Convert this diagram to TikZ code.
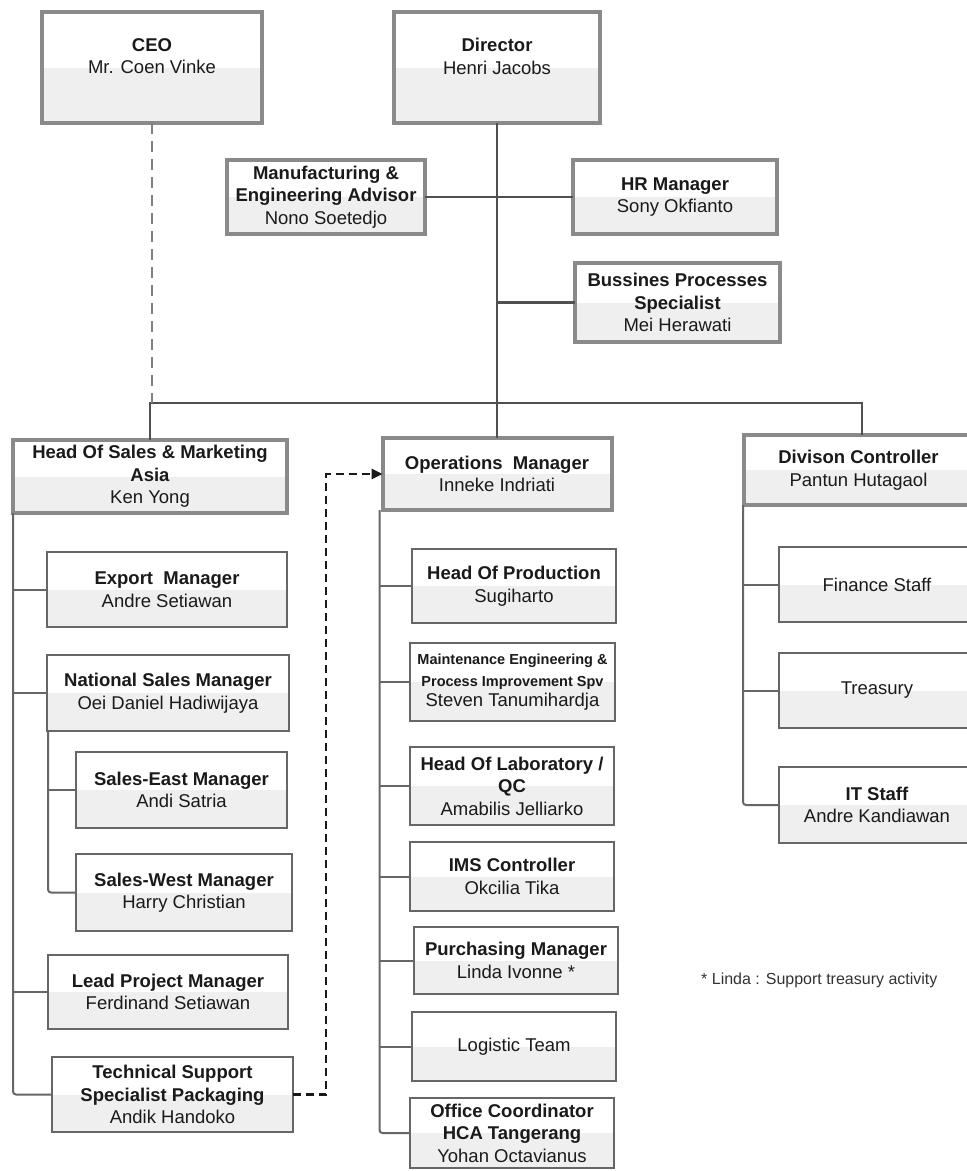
\documentclass[tikz,border=0pt]{standalone}
\usepackage{fontspec}
\setmainfont{Liberation Sans}
\usetikzlibrary{calc,arrows.meta}
\definecolor{bordergray}{HTML}{8A8A8A}
\definecolor{thingray}{HTML}{666666}
\definecolor{lowfill}{HTML}{EFEFEF}
\definecolor{linegray}{HTML}{505050}
\definecolor{txt}{HTML}{1A1A1A}
\tikzset{
  boxbase/.style={rectangle, align=center, inner sep=0pt, outer sep=0pt, fill=white,
    font=\fontsize{18.5}{22.5}\selectfont, text=txt,
    path picture={\fill[lowfill] (path picture bounding box.west) rectangle (path picture bounding box.south east);}},
  bigbox/.style={boxbase, draw=bordergray, line width=4pt},
  smallbox/.style={boxbase, draw=thingray, line width=1.6pt},
  conn/.style={draw=linegray, line width=2.5pt},
  subconn/.style={draw=thingray, line width=2pt},
  ceoline/.style={draw=gray, line width=1.8pt, dash pattern=on 11pt off 7pt},
  dasharrow/.style={draw=black!90, line width=2.5pt, dash pattern=on 8pt off 5pt,
    -{Triangle[length=11pt,width=10pt]}},
  notetext/.style={font=\fontsize{16}{19}\selectfont, text=black!80, anchor=west, inner sep=0pt}
}
\begin{document}
\begin{tikzpicture}[x=1pt,y=-1pt]
\useasboundingbox (0,0) rectangle (967,1171);
\fill[white] (0,0) rectangle (967,1171);
\clip (0,0) rectangle (967,1171);

% top level
\node[bigbox, minimum width=220pt, minimum height=111pt] (CEO) at (152,67.5)
  {\textbf{CEO}\\Mr. Coen Vinke\\\mbox{}};
\node[bigbox, minimum width=206pt, minimum height=111pt] (Dir) at (497,67.5)
  {\textbf{Director}\\Henri Jacobs\\\mbox{}};
\node[bigbox, minimum width=198pt, minimum height=74pt] (Manuf) at (326,197)
  {\textbf{Manufacturing \&}\\\textbf{Engineering Advisor}\\Nono Soetedjo};
\node[bigbox, minimum width=204pt, minimum height=74pt] (HR) at (675,197)
  {\textbf{HR Manager}\\Sony Okfianto};
\node[bigbox, minimum width=205pt, minimum height=79pt] (BPS) at (677.5,302.5)
  {\textbf{Bussines Processes}\\\textbf{Specialist}\\Mei Herawati};

% second level
\node[bigbox, minimum width=274pt, minimum height=73pt] (HoS) at (150,476.5)
  {\textbf{Head Of Sales \& Marketing}\\\textbf{Asia}\\Ken Yong};
\node[bigbox, minimum width=229pt, minimum height=72pt] (Ops) at (497,474)
  {\textbf{Operations~ Manager}\\Inneke Indriati};
\node[bigbox, minimum width=229pt, minimum height=70pt] (Div) at (858.5,470)
  {\textbf{Divison Controller}\\Pantun Hutagaol};

% sales column
\node[smallbox, minimum width=240pt, minimum height=75pt] (Export) at (167,589.5)
  {\textbf{Export~ Manager}\\Andre Setiawan};
\node[smallbox, minimum width=242pt, minimum height=76pt] (National) at (168,693)
  {\textbf{National Sales Manager}\\Oei Daniel Hadiwijaya};
\node[smallbox, minimum width=211pt, minimum height=76pt] (SEast) at (181.5,790)
  {\textbf{Sales-East Manager}\\Andi Satria};
\node[smallbox, minimum width=216pt, minimum height=77pt] (SWest) at (184,892.5)
  {\textbf{Sales-West Manager}\\Harry Christian};
\node[smallbox, minimum width=240pt, minimum height=74pt] (Lead) at (168,992)
  {\textbf{Lead Project Manager}\\Ferdinand Setiawan};
\node[smallbox, minimum width=241pt, minimum height=75pt] (Tech) at (172.5,1094.5)
  {\textbf{Technical Support}\\\textbf{Specialist Packaging}\\Andik Handoko};

% operations column
\node[smallbox, minimum width=204pt, minimum height=74pt] (Prod) at (514,586)
  {\textbf{Head Of Production}\\Sugiharto};
\node[smallbox, minimum width=205pt, minimum height=78pt] (Maint) at (512.5,682)
  {{\fontsize{14.5}{20}\selectfont\textbf{Maintenance Engineering \&}}\\
   {\fontsize{14.5}{20}\selectfont\textbf{Process Improvement Spv}}\\[-3pt]
   Steven Tanumihardja};
\node[smallbox, minimum width=204pt, minimum height=78pt] (Lab) at (512,786)
  {\textbf{Head Of Laboratory /}\\\textbf{QC}\\Amabilis Jelliarko};
\node[smallbox, minimum width=204pt, minimum height=69pt] (IMS) at (512,876.5)
  {\textbf{IMS Controller}\\Okcilia Tika};
\node[smallbox, minimum width=204pt, minimum height=67pt] (Purch) at (516,960.5)
  {\textbf{Purchasing Manager}\\Linda Ivonne *};
\node[smallbox, minimum width=204pt, minimum height=69pt] (Logi) at (514,1046.5)
  {Logistic Team};
\node[smallbox, minimum width=204pt, minimum height=70pt] (Office) at (512,1133)
  {\textbf{Office Coordinator}\\\textbf{HCA Tangerang}\\Yohan Octavianus};

% division column
\node[smallbox, minimum width=196pt, minimum height=75pt] (Fin) at (877,584.5)
  {Finance Staff};
\node[smallbox, minimum width=196pt, minimum height=75pt] (Treas) at (877,690.5)
  {Treasury};
\node[smallbox, minimum width=196pt, minimum height=76pt] (IT) at (877,805)
  {\textbf{IT Staff}\\Andre Kandiawan};

% note
\node[notetext] (note) at (701,980) {* Linda : Support treasury activity};

% main connectors
\coordinate (busL) at (150,403);
\coordinate (busR) at (862,403);
\draw[conn] (Dir.south) -- (Ops.north);
\draw[conn] (Manuf.east) -- (HR.west);
\draw[conn] (BPS.west -| Dir.south) -- (BPS.west);
\draw[conn] (HoS.north) -- (busL) -- (busR) -- (busR |- Div.north);
\draw[ceoline] (CEO.south) -- (CEO.south |- busL);

% sales branches
\coordinate (hb) at (HoS.south west);
\draw[subconn, rounded corners=3pt] (hb) |- (Tech.west);
\draw[subconn] (Export.west -| hb) -- (Export.west);
\draw[subconn] (National.west -| hb) -- (National.west);
\draw[subconn] (Lead.west -| hb) -- (Lead.west);
\coordinate (nb) at ($(National.south west)+(1,0)$);
\draw[subconn, rounded corners=3pt] (nb) |- (SWest.west);
\draw[subconn] (SEast.west -| nb) -- (SEast.west);

% operations branches
\coordinate (ob) at ($(Ops.south west)+(-3,0)$);
\draw[subconn, rounded corners=3pt] (ob) |- (Office.west);
\foreach \n in {Prod,Maint,Lab,IMS,Purch,Logi}
  \draw[subconn] (\n.west -| ob) -- (\n.west);

% division branches
\coordinate (db) at ($(Div.south west)+(-1,0)$);
\draw[subconn, rounded corners=3pt] (db) |- (IT.west);
\draw[subconn] (Fin.west -| db) -- (Fin.west);
\draw[subconn] (Treas.west -| db) -- (Treas.west);

% dashed link from technical support to operations
\coordinate (dx) at (326,0);
\draw[dasharrow] (Tech.east) -- (Tech.east -| dx) |- (Ops.west);
\end{tikzpicture}
\end{document}
